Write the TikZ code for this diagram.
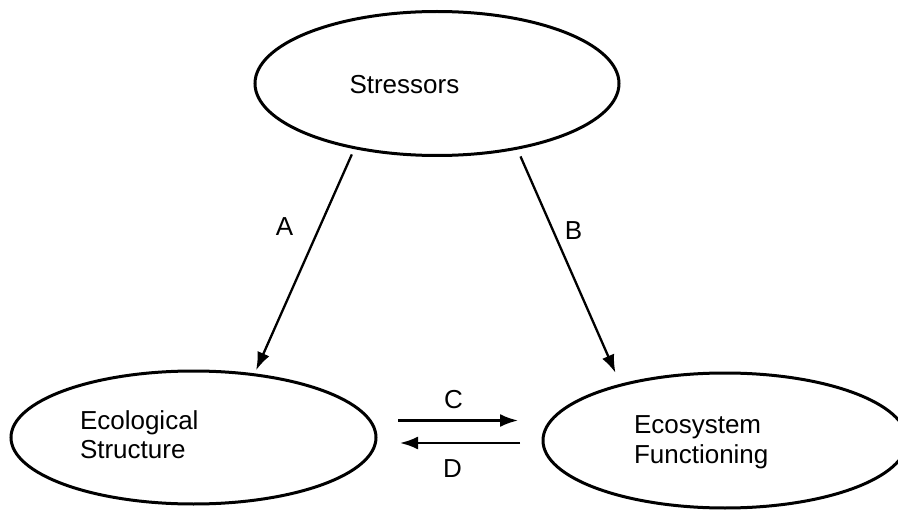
\documentclass[tikz,border=0pt]{standalone}
\usepackage{fontspec}
\setmainfont{Liberation Sans}
\usetikzlibrary{shapes.geometric,arrows.meta}
\tikzset{
  oval/.style={ellipse, draw, line width=3pt, inner sep=0pt, outer sep=0pt},
  txt/.style={font=\fontsize{26}{30}\selectfont, inner sep=0pt, outer sep=0pt, anchor=base west},
  lettr/.style={font=\fontsize{26}{30}\selectfont, inner sep=0pt, outer sep=0pt},
  link/.style={line width=2.3pt, -{Latex[length=18pt,width=13pt]}}
}
\begin{document}
\begin{tikzpicture}[x=1pt,y=-1pt]
\useasboundingbox (0,0) rectangle (898,516);
\node[oval, minimum width=364pt, minimum height=144pt] (stress) at (437,83.5) {};
\node[oval, minimum width=365pt, minimum height=133pt] (eco) at (193.5,437.5) {};
\node[oval, minimum width=364pt, minimum height=135pt] (ecosys) at (725,440.5) {};

\node[txt] (tstress) at (349.5,93.3) {Stressors};
\node[txt] (teco1) at (80,429) {Ecological};
\node[txt] (teco2) at (80,458.5) {Structure};
\node[txt] (tsys1) at (634,433) {Ecosystem};
\node[txt] (tsys2) at (634,463) {Functioning};

\draw[link, shorten <=7.3pt, shorten >=5pt] (stress.218.1) -- (eco.46.6);
\draw[link, shorten <=9pt, shorten >=13.5pt] (stress.321.1) -- (ecosys.152);
\draw[link, shorten <=22pt, shorten >=25pt] ([yshift=17pt]eco.east) -- ([yshift=17pt]eco.east -| ecosys.west);
\draw[link, shorten <=23pt, shorten >=24pt] ([yshift=-2.5pt]ecosys.west) -- ([yshift=-2.5pt]ecosys.west -| eco.east);

\node[lettr] (la) at (284.5,227) {A};
\node[lettr] (lb) at (573.5,230.5) {B};
\node[lettr] (lc) at (453.5,400) {C};
\node[lettr] (ld) at (452.5,468.5) {D};
\end{tikzpicture}
\end{document}
